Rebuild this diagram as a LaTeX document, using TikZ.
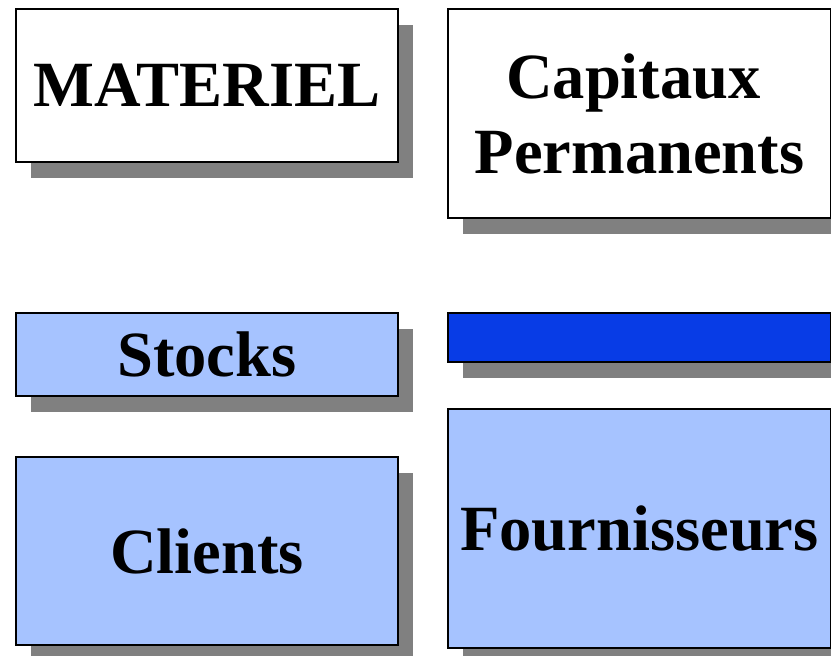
\documentclass[tikz,border=0pt]{standalone}
\usepackage{fontspec}
\setmainfont{Liberation Serif}
\usetikzlibrary{shadows}

\definecolor{paleblue}{HTML}{A6C3FF}
\definecolor{deepblue}{HTML}{083CE6}
\definecolor{shadowgray}{HTML}{808080}

\begin{document}
\begin{tikzpicture}[x = 1pt, y = -1pt,
		box/.style = {draw = black, line width = 2pt, fill = white, anchor = north west,
			inner sep = 0pt, align = center, font = \bfseries\fontsize{64.5}{75}\selectfont,
			drop shadow = {shadow xshift = 15pt, shadow yshift = -16pt, fill = shadowgray, opacity = 1}},
		leftbox/.style = {box, minimum width = 382pt},
		rightbox/.style = {box, minimum width = 383pt}]
			\useasboundingbox (0,0) rectangle (831,656);

			% actif
			\begin{scope}
				\node [leftbox, minimum height = 153pt] (materiel) at (15,8) {MATERIEL};
				\node [leftbox, minimum height = 83pt, fill = paleblue] (stocks) at (15,312) {Stocks};
				\node [leftbox, minimum height = 188pt, fill = paleblue] (clients) at (15,456) {Clients};
			\end{scope}

			% passif
			\begin{scope}
				\node [rightbox, minimum height = 209pt] (capitaux) at (447,8) {Capitaux\hspace*{12pt}\\Permanents};
				\node [rightbox, minimum height = 49pt, fill = deepblue] (tresorerie) at (447,312) {};
				\node [rightbox, minimum height = 239pt, fill = paleblue] (fournisseurs) at (447,408) {Fournisseurs};
			\end{scope}
		\end{tikzpicture}
\end{document}
